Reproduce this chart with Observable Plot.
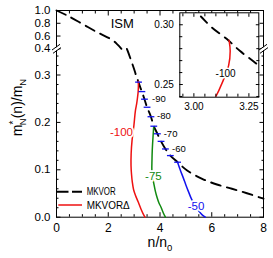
<!DOCTYPE html>
<html><head><meta charset="utf-8">
<script src="https://cdn.jsdelivr.net/npm/d3@7"></script>
<script src="https://cdn.jsdelivr.net/npm/@observablehq/plot@0.6"></script>
<style>
body{margin:0;background:#fff;}
#chart{position:relative;width:273px;height:258px;overflow:hidden;}
#chart svg{position:absolute;top:0;left:0;overflow:visible;}
</style></head><body><div id="chart"></div>
<script>
const FONT = "'Liberation Sans', Arial, Helvetica, sans-serif";

// ---- MKVOR (dashed black), n/n0 and m*/m
const mkvorN = [0, 0.41, 0.99, 1.57, 2.15, 2.35, 2.51, 2.62, 2.72, 2.79, 3.02, 3.08, 3.15, 3.21, 3.28, 3.40, 3.50, 3.65, 3.76, 3.90, 4.04, 4.21, 4.40, 4.68, 5.05, 5.63, 6.20, 6.78, 7.36, 8.00];
const mkvorM = [1.0, 0.922, 0.792, 0.660, 0.540, 0.470, 0.400, 0.375, 0.355, 0.345, 0.309, 0.298, 0.288, 0.278, 0.268, 0.249, 0.232, 0.212, 0.192, 0.176, 0.160, 0.144, 0.130, 0.116, 0.0985, 0.081, 0.069, 0.060, 0.0506, 0.039];

// ---- MKVORΔ curves for U = -100, -75, -50 MeV
const redN = [3.16, 3.165, 3.158, 3.13, 3.10, 3.05, 2.99, 2.92, 2.885, 2.88, 2.90, 2.93, 2.98, 3.06, 3.15, 3.26, 3.35, 3.42];
const redM = [0.287, 0.278, 0.266, 0.252, 0.240, 0.225, 0.193, 0.162, 0.134, 0.109, 0.090, 0.074, 0.058, 0.045, 0.033, 0.018, 0.007, 0];
const greenN = [3.757, 3.725, 3.70, 3.69, 3.685, 3.71, 3.757, 3.82, 3.89, 3.96, 4.04, 4.12, 4.21];
const greenM = [0.191, 0.165, 0.140, 0.120, 0.100, 0.085, 0.072, 0.055, 0.041, 0.030, 0.021, 0.010, 0];
const blueN = [4.68, 4.78, 4.90, 5.00, 5.10, 5.22, 5.36, 5.50, 5.63, 5.75];
const blueM = [0.116, 0.100, 0.083, 0.068, 0.054, 0.038, 0.024, 0.013, 0.005, 0];

const curveU = ["-100", "-75", "-50"];
const curveColors = ["#ee1111", "#118a11", "#1212ee"];
const curveLabelN = [2.51, 3.745, 5.39];
const curveLabelM = [0.1795, 0.0859, 0.0236];

// ---- onset markers along MKVOR, U = -100 ... -50 step 5
const markerU = [-100, -95, -90, -85, -80, -75, -70, -65, -60, -55, -50];
const markerN = [3.17, 3.30, 3.40, 3.50, 3.65, 3.76, 3.90, 4.04, 4.21, 4.40, 4.68];
const markerM = [0.285, 0.265, 0.249, 0.232, 0.212, 0.192, 0.176, 0.160, 0.144, 0.130, 0.116];
const stepLabels = ["-90", "-80", "-70", "-60"];
const stepLabelN = [3.695, 3.888, 4.143, 4.467];
const stepLabelM = [0.2498, 0.2135, 0.176, 0.1443];

// ---- axes
const xTicks = [0, 2, 4, 6, 8];
const xTickLabels = ["0", "2", "4", "6", "8"];
const xMinor = [0.5, 1, 1.5, 2.5, 3, 3.5, 4.5, 5, 5.5, 6.5, 7, 7.5];
const yTicks = [0, 0.1, 0.2, 0.3, 0.4, 0.6, 0.8, 1.0];
const yTickLabels = ["0.0", "0.1", "0.2", "0.3", "0.4", "0.6", "0.8", "1.0"];
const yMinor = [0.02, 0.04, 0.06, 0.08, 0.12, 0.14, 0.16, 0.18, 0.22, 0.24, 0.26, 0.28, 0.32, 0.34];
const insetXTicks = [3.00, 3.25];
const insetXLabels = ["3.00", "3.25"];
const insetXMinor = [2.95, 3.05, 3.10, 3.15, 3.20];
const insetYTicks = [0.25, 0.30];
const insetYLabels = ["0.25", "0.30"];
const insetYMinor = [0.24, 0.26, 0.27, 0.28, 0.29];
const seriesNames = ["MKVOR", "MKVORΔ"];
const panelLabel = "ISM";

// ---- broken y axis: lower 0..0.3553 linear, upper 0.4..1.0 compressed
const LOW = 0.3553, HIGH = 0.4, K = 0.1347;
const fy = v => v <= LOW ? v : v >= HIGH ? LOW + (v - HIGH) * K : NaN;

const mkvor = mkvorN.map((n, i) => ({n, m: mkvorM[i]}));
const red = redN.map((n, i) => ({n, m: redM[i]}));
const green = greenN.map((n, i) => ({n, m: greenM[i]}));
const blue = blueN.map((n, i) => ({n, m: blueM[i]}));
const markers = markerU.map((u, i) => ({u, n: markerN[i], m: markerM[i]}));
const curveLabels = curveU.map((t, i) => ({t, c: curveColors[i], n: curveLabelN[i], m: curveLabelM[i]}));
const steps = stepLabels.map((t, i) => ({t, n: stepLabelN[i], m: stepLabelM[i]}));

const yLabelMap = new Map(yTicks.map((v, i) => [fy(v), yTickLabels[i]]));
const xLabelMap = new Map(xTicks.map((v, i) => [v, xTickLabels[i]]));
const none = () => "";

const hbar = {draw(ctx, size) { const r = Math.sqrt(size / Math.PI); ctx.moveTo(-r, 0); ctx.lineTo(r, 0); }};
const gapShape = {draw(ctx) { ctx.moveTo(-4, 1.2); ctx.lineTo(3, -3.8); ctx.lineTo(4, -1.2); ctx.lineTo(-3, 3.8); ctx.closePath(); }};
const slashShape = {draw(ctx) { ctx.moveTo(-4.5, 1.2); ctx.lineTo(3.5, -4.5); ctx.moveTo(-3.5, 4.5); ctx.lineTo(4.5, -1.2); }};

const MAJ = -4.5, MIN = -2.5;
const main = Plot.plot({
  width: 273, height: 258,
  marginLeft: 56, marginRight: 10, marginTop: 10, marginBottom: 41.3,
  style: {fontFamily: FONT, fontSize: "11.5px", background: "transparent", color: "black"},
  x: {domain: [0, 8]},
  y: {domain: [0, fy(1.0)]},
  marks: [
    Plot.frame({stroke: "black", strokeWidth: 1}),
    Plot.axisX({anchor: "bottom", ticks: xTicks, tickSize: MAJ, tickPadding: 11, tickFormat: d => xLabelMap.get(d), label: null, fontSize: 12}),
    Plot.axisX({anchor: "bottom", ticks: xMinor, tickSize: MIN, tickFormat: none, label: null}),
    Plot.axisX({anchor: "top", ticks: xTicks, tickSize: MAJ, tickFormat: none, label: null}),
    Plot.axisX({anchor: "top", ticks: xMinor, tickSize: MIN, tickFormat: none, label: null}),
    Plot.axisY({anchor: "left", ticks: yTicks.map(fy), tickSize: MAJ, tickPadding: 10.5, tickFormat: d => yLabelMap.get(d), label: null, fontSize: 11.5}),
    Plot.axisY({anchor: "left", ticks: yMinor.map(fy), tickSize: MIN, tickFormat: none, label: null}),
    Plot.axisY({anchor: "right", ticks: yTicks.map(fy), tickSize: MAJ, tickFormat: none, label: null}),
    Plot.axisY({anchor: "right", ticks: yMinor.map(fy), tickSize: MIN, tickFormat: none, label: null}),
    Plot.line(mkvor, {x: "n", y: d => fy(d.m), stroke: "black", strokeWidth: 1.9, strokeDasharray: "10,6.5", curve: "catmull-rom"}),
    Plot.line(red, {x: "n", y: d => fy(d.m), stroke: curveColors[0], strokeWidth: 1.5, curve: "catmull-rom"}),
    Plot.line(green, {x: "n", y: d => fy(d.m), stroke: curveColors[1], strokeWidth: 1.5, curve: "catmull-rom"}),
    Plot.line(blue, {x: "n", y: d => fy(d.m), stroke: curveColors[2], strokeWidth: 1.5, curve: "catmull-rom"}),
    Plot.dot(markers, {x: "n", y: d => fy(d.m), symbol: hbar, r: 3.4, fill: "none", stroke: "#1212ee", strokeWidth: 1.3}),
    Plot.text(curveLabels, {x: "n", y: d => fy(d.m), text: "t", fill: "c", stroke: "white", strokeWidth: 3.5, paintOrder: "stroke", fontSize: 11.5}),
    Plot.text(steps, {x: "n", y: d => fy(d.m), text: "t", fill: "black", textAnchor: "start", fontSize: 9.5}),
    Plot.text([panelLabel], {x: 2.54, y: fy(0.792), text: d => d, fill: "black", fontSize: 13}),
    Plot.dot([0, 8], {x: d => d, y: fy(HIGH), symbol: gapShape, r: 4, fill: "white", stroke: "none"}),
    Plot.dot([0, 8], {x: d => d, y: fy(HIGH), symbol: slashShape, r: 4, fill: "none", stroke: "black", strokeWidth: 1})
  ]
});

const inset = Plot.plot({
  width: 123, height: 115,
  marginLeft: 29.3, marginRight: 14.7, marginTop: 12.3, marginBottom: 18.3,
  style: {fontFamily: FONT, fontSize: "10px", background: "transparent", color: "black"},
  x: {domain: [2.936, 3.295]},
  y: {domain: [0.2394, 0.310]},
  marks: [
    Plot.frame({fill: "white", stroke: "none"}),
    Plot.line(mkvor, {x: "n", y: "m", stroke: "black", strokeWidth: 1.9, strokeDasharray: "9,7", curve: "catmull-rom", clip: true}),
    Plot.line(red, {x: "n", y: "m", stroke: curveColors[0], strokeWidth: 1.5, curve: "catmull-rom", clip: true}),
    Plot.text([curveU[0]], {x: 3.144, y: 0.259, text: d => d, fill: "black", stroke: "white", strokeWidth: 3, paintOrder: "stroke", fontSize: 10}),
    Plot.axisX({anchor: "bottom", ticks: insetXTicks, tickSize: -3.5, tickPadding: 9, tickFormat: (d) => insetXLabels[insetXTicks.indexOf(d)], label: null, fontSize: 10}),
    Plot.axisX({anchor: "bottom", ticks: insetXMinor, tickSize: -3, tickFormat: none, label: null}),
    Plot.axisX({anchor: "top", ticks: insetXTicks, tickSize: -3.5, tickFormat: none, label: null}),
    Plot.axisX({anchor: "top", ticks: insetXMinor, tickSize: -3, tickFormat: none, label: null}),
    Plot.axisY({anchor: "left", ticks: insetYTicks, tickSize: -3.5, tickPadding: 9.5, tickFormat: (d) => insetYLabels[insetYTicks.indexOf(d)], label: null, fontSize: 10}),
    Plot.axisY({anchor: "left", ticks: insetYMinor, tickSize: -3, tickFormat: none, label: null}),
    Plot.axisY({anchor: "right", ticks: insetYTicks, tickSize: -3.5, tickFormat: none, label: null}),
    Plot.axisY({anchor: "right", ticks: insetYMinor, tickSize: -3, tickFormat: none, label: null}),
    Plot.frame({stroke: "black", strokeWidth: 1})
  ]
});
inset.style.left = "150px";

const chart = document.getElementById("chart");
chart.appendChild(main);
chart.appendChild(inset);

// axis titles and legend
const g = d3.select(main);
const yt = g.append("text")
  .attr("transform", "translate(22,107.5) rotate(-90)")
  .attr("text-anchor", "middle").attr("font-family", FONT).attr("font-size", 14).attr("fill", "black");
yt.append("tspan").text("m");
yt.append("tspan").attr("font-size", 10).attr("dy", -5).text("*");
yt.append("tspan").attr("font-size", 9.5).attr("dx", -4.5).attr("dy", 9).text("N");
yt.append("tspan").attr("dy", -4).text("(n)/m");
yt.append("tspan").attr("font-size", 9.5).attr("dy", 3.5).text("N");

const xt = g.append("text")
  .attr("x", 160).attr("y", 247)
  .attr("text-anchor", "middle").attr("font-family", FONT).attr("font-size", 14).attr("fill", "black");
xt.append("tspan").text("n/n");
xt.append("tspan").attr("font-size", 9.5).attr("dy", 3.5).text("0");

const leg = g.append("g").attr("font-family", FONT).attr("font-size", 10.5).attr("fill", "black").attr("text-anchor", "start");
leg.append("line").attr("x1", 57).attr("x2", 82).attr("y1", 191.7).attr("y2", 191.7)
  .attr("stroke", "black").attr("stroke-width", 1.9).attr("stroke-dasharray", "11.5,3.5");
leg.append("text").attr("x", 86.7).attr("y", 191.7).attr("dy", "0.35em").attr("text-anchor", "start")
  .attr("textLength", 29).attr("lengthAdjust", "spacingAndGlyphs").text(seriesNames[0]);
leg.append("line").attr("x1", 58.3).attr("x2", 82).attr("y1", 205).attr("y2", 205)
  .attr("stroke", curveColors[0]).attr("stroke-width", 1.5);
leg.append("text").attr("x", 86.7).attr("y", 205).attr("dy", "0.35em").attr("text-anchor", "start")
  .attr("textLength", 43).attr("lengthAdjust", "spacingAndGlyphs").text(seriesNames[1]);
</script></body></html>
